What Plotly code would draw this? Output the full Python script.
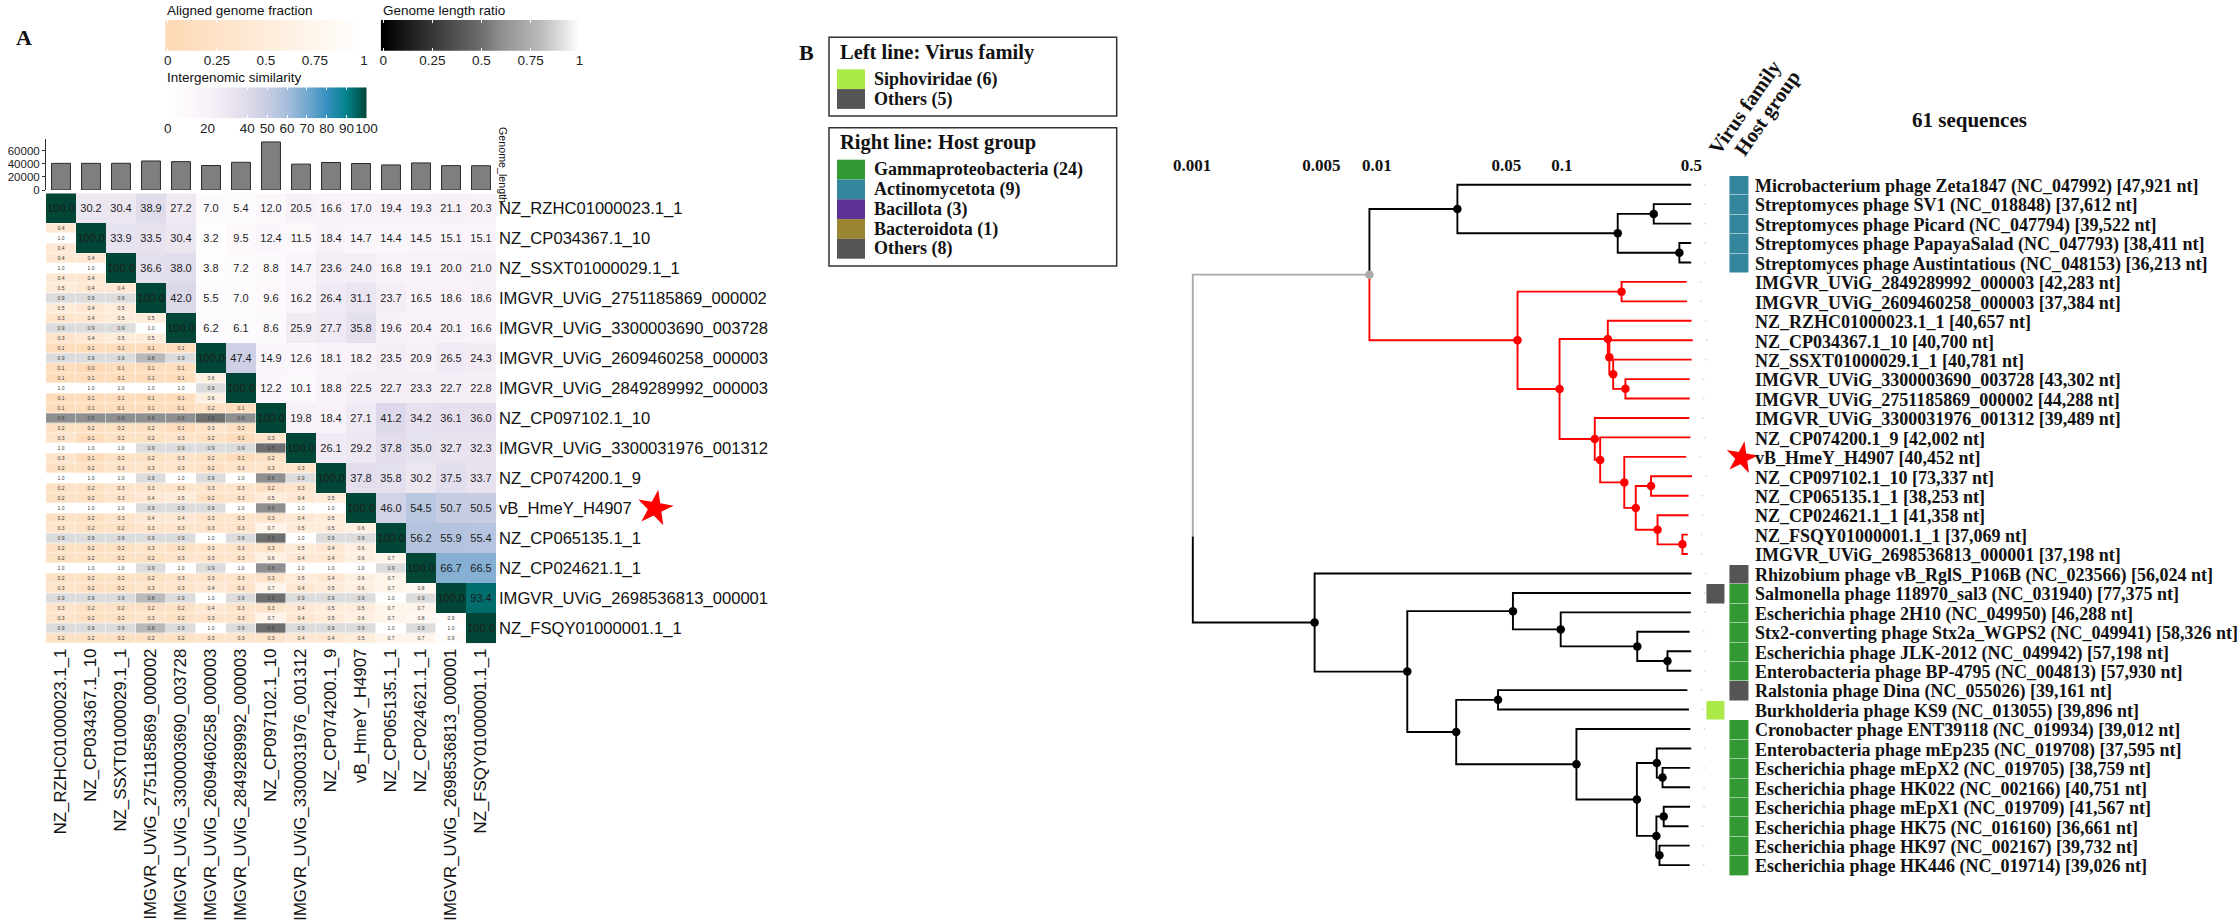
import numpy as np
import plotly.graph_objects as go

W, H = 2240, 920

# ---------- Panel A data ----------
genomes = ["NZ_RZHC01000023.1_1", "NZ_CP034367.1_10", "NZ_SSXT01000029.1_1",
           "IMGVR_UViG_2751185869_000002", "IMGVR_UViG_3300003690_003728",
           "IMGVR_UViG_2609460258_000003", "IMGVR_UViG_2849289992_000003",
           "NZ_CP097102.1_10", "IMGVR_UViG_3300031976_001312", "NZ_CP074200.1_9",
           "vB_HmeY_H4907", "NZ_CP065135.1_1", "NZ_CP024621.1_1",
           "IMGVR_UViG_2698536813_000001", "NZ_FSQY01000001.1_1"]
genome_length = [40657, 40700, 40781, 44288, 43302, 37384, 42283, 73337, 39489,
                 42002, 40452, 38253, 41358, 37198, 37069]
genome_length_ticks = [0, 20000, 40000, 60000]

similarity_upper = [
    [100.0, 30.2, 30.4, 38.9, 27.2, 7.0, 5.4, 12.0, 20.5, 16.6, 17.0, 19.4, 19.3, 21.1, 20.3],
    [100.0, 33.9, 33.5, 30.4, 3.2, 9.5, 12.4, 11.5, 18.4, 14.7, 14.4, 14.5, 15.1, 15.1],
    [100.0, 36.6, 38.0, 3.8, 7.2, 8.8, 14.7, 23.6, 24.0, 16.8, 19.1, 20.0, 21.0],
    [100.0, 42.0, 5.5, 7.0, 9.6, 16.2, 26.4, 31.1, 23.7, 16.5, 18.6, 18.6],
    [100.0, 6.2, 6.1, 8.6, 25.9, 27.7, 35.8, 19.6, 20.4, 20.1, 16.6],
    [100.0, 47.4, 14.9, 12.6, 18.1, 18.2, 23.5, 20.9, 26.5, 24.3],
    [100.0, 12.2, 10.1, 18.8, 22.5, 22.7, 23.3, 22.7, 22.8],
    [100.0, 19.8, 18.4, 27.1, 41.2, 34.2, 36.1, 36.0],
    [100.0, 26.1, 29.2, 37.8, 35.0, 32.7, 32.3],
    [100.0, 37.8, 35.8, 30.2, 37.5, 33.7],
    [100.0, 46.0, 54.5, 50.7, 50.5],
    [100.0, 56.2, 55.9, 55.4],
    [100.0, 66.7, 66.5],
    [100.0, 93.4],
    [100.0],
]
# lower triangle: aligned fraction above, length ratio in the middle, aligned fraction below
fraction_top = [
    [], [.4], [.4, .4], [.5, .4, .4], [.3, .4, .5, .5], [.1, .1, .1, .1, .1],
    [.1, .1, .1, .1, .1, .6], [.1, .1, .1, .1, .1, .2, .1],
    [.3, .1, .2, .2, .3, .2, .1, .3], [.2, .2, .3, .3, .3, .2, .3, .3, .3],
    [.2, .2, .3, .4, .5, .2, .3, .5, .4, .5],
    [.3, .2, .2, .3, .3, .3, .3, .7, .5, .5, .6],
    [.2, .2, .2, .2, .3, .3, .3, .6, .4, .4, .6, .7],
    [.3, .2, .2, .3, .3, .4, .3, .7, .4, .5, .6, .7, .8],
    [.3, .2, .2, .3, .2, .3, .3, .7, .4, .5, .6, .7, .8, .9],
]
ratio_mid = [
    [], [1.0], [1.0, 1.0], [.9, .9, .9], [.9, .9, .9, 1.0], [.9, .9, .9, .8, .9],
    [1.0, 1.0, 1.0, 1.0, 1.0, .9], [.6, .6, .6, .6, .6, .5, .6],
    [1.0, 1.0, 1.0, .9, .9, .9, .9, .5], [1.0, 1.0, 1.0, .9, 1.0, .9, 1.0, .6, .9],
    [1.0, 1.0, 1.0, .9, .9, .9, 1.0, .6, 1.0, 1.0],
    [.9, .9, .9, .9, .9, 1.0, .9, .5, 1.0, .9, .9],
    [1.0, 1.0, 1.0, .9, 1.0, .9, 1.0, .6, 1.0, 1.0, 1.0, .9],
    [.9, .9, .9, .8, .9, 1.0, .9, .5, .9, .9, .9, 1.0, .9],
    [.9, .9, .9, .8, .9, 1.0, .9, .5, .9, .9, .9, 1.0, .9, 1.0],
]
fraction_bot = [
    [], [.4], [.4, .4], [.5, .4, .5], [.3, .4, .5, .5], [.1, .0, .1, .1, .1],
    [.1, .1, .1, .1, .1, .6], [.2, .2, .2, .2, .1, .3, .2],
    [.3, .1, .2, .2, .3, .2, .1, .2], [.2, .2, .3, .3, .3, .3, .3, .2, .3],
    [.2, .2, .3, .4, .4, .3, .3, .3, .4, .5],
    [.2, .2, .2, .3, .2, .3, .3, .3, .5, .4, .6],
    [.2, .2, .2, .2, .3, .3, .3, .3, .5, .4, .6, .7],
    [.3, .2, .2, .2, .2, .4, .3, .3, .4, .5, .5, .7, .7],
    [.2, .2, .2, .2, .2, .3, .3, .3, .4, .4, .5, .7, .7, .9],
]
fraction_ticks = [0, 0.25, 0.5, 0.75, 1]
fraction_tick_text = ["0", "0.25", "0.5", "0.75", "1"]
similarity_ticks = [0, 20, 40, 50, 60, 70, 80, 90, 100]

# ---------- Panel B data ----------
leaf_labels = [
    "Microbacterium phage Zeta1847 (NC_047992) [47,921 nt]",
    "Streptomyces phage SV1 (NC_018848) [37,612 nt]",
    "Streptomyces phage Picard (NC_047794) [39,522 nt]",
    "Streptomyces phage PapayaSalad (NC_047793) [38,411 nt]",
    "Streptomyces phage Austintatious (NC_048153) [36,213 nt]",
    "IMGVR_UViG_2849289992_000003 [42,283 nt]",
    "IMGVR_UViG_2609460258_000003 [37,384 nt]",
    "NZ_RZHC01000023.1_1 [40,657 nt]",
    "NZ_CP034367.1_10 [40,700 nt]",
    "NZ_SSXT01000029.1_1 [40,781 nt]",
    "IMGVR_UViG_3300003690_003728 [43,302 nt]",
    "IMGVR_UViG_2751185869_000002 [44,288 nt]",
    "IMGVR_UViG_3300031976_001312 [39,489 nt]",
    "NZ_CP074200.1_9 [42,002 nt]",
    "vB_HmeY_H4907 [40,452 nt]",
    "NZ_CP097102.1_10 [73,337 nt]",
    "NZ_CP065135.1_1 [38,253 nt]",
    "NZ_CP024621.1_1 [41,358 nt]",
    "NZ_FSQY01000001.1_1 [37,069 nt]",
    "IMGVR_UViG_2698536813_000001 [37,198 nt]",
    "Rhizobium phage vB_RglS_P106B (NC_023566) [56,024 nt]",
    "Salmonella phage 118970_sal3 (NC_031940) [77,375 nt]",
    "Escherichia phage 2H10 (NC_049950) [46,288 nt]",
    "Stx2-converting phage Stx2a_WGPS2 (NC_049941) [58,326 nt]",
    "Escherichia phage JLK-2012 (NC_049942) [57,198 nt]",
    "Enterobacteria phage BP-4795 (NC_004813) [57,930 nt]",
    "Ralstonia phage Dina (NC_055026) [39,161 nt]",
    "Burkholderia phage KS9 (NC_013055) [39,896 nt]",
    "Cronobacter phage ENT39118 (NC_019934) [39,012 nt]",
    "Enterobacteria phage mEp235 (NC_019708) [37,595 nt]",
    "Escherichia phage mEpX2 (NC_019705) [38,759 nt]",
    "Escherichia phage HK022 (NC_002166) [40,751 nt]",
    "Escherichia phage mEpX1 (NC_019709) [41,567 nt]",
    "Escherichia phage HK75 (NC_016160) [36,661 nt]",
    "Escherichia phage HK97 (NC_002167) [39,732 nt]",
    "Escherichia phage HK446 (NC_019714) [39,026 nt]",
]
tip_distance = [.4995, .4995, .4995, .4995, .4995, .4720, .4743, .5020, .5092, .5020,
                .4902, .4902, .4878, .4948, .4695, .5043, .4830, .4830, .4786, .4786,
                .5020, .4971, .4971, .4902, .4995, .4995, .4761, .4853, .4948, .4995,
                .4925, .4925, .4925, .4830, .4902, .4902]
# internal nodes: name, distance from the axis, first child, second child, clade
tree_nodes = [
    ("root", .00101, "A", "T", "grey"),
    ("A", .00910, "B", "F", "grey"),
    ("B", .0272, 0, "C", "black"), ("C", .2001, "D", "E", "black"),
    ("D", .3132, 1, 2, "black"), ("E", .4310, 3, 4, "black"),
    ("F", .0575, "G", "H", "red"), ("G", .2099, 5, 6, "red"),
    ("H", .0970, "I", "N", "red"), ("I", .1769, 7, "J", "red"),
    ("J", .1803, 8, "K", "red"), ("K", .1891, 9, "L", "red"),
    ("L", .2202, 10, 11, "red"), ("N", .1504, 12, "M", "red"),
    ("M", .1608, 13, "O", "red"), ("O", .2171, 14, "P", "red"),
    ("P", .2504, "Q", "R", "red"), ("Q", .3030, 15, 16, "red"),
    ("R", .3284, 17, "S", "red"), ("S", .4477, 18, 19, "red"),
    ("T", .0046, 20, "U", "black"), ("U", .01458, "V", "W", "black"),
    ("V", .0543, 21, "X", "black"), ("X", .0984, 22, "Y", "black"),
    ("Y", .2552, 23, "Z", "black"), ("Z", .3717, 24, 25, "black"),
    ("W", .0268, "AA", "AB", "black"), ("AA", .0451, 26, 27, "black"),
    ("AB", .1197, 28, "AC", "black"), ("AC", .2540, "AD", "AE", "black"),
    ("AD", .3254, 29, "AF", "black"), ("AF", .3495, 30, 31, "black"),
    ("AE", .3238, "AG", "AH", "black"), ("AG", .3547, 32, 33, "black"),
    ("AH", .3364, 34, 35, "black"),
]
root_colour_change = 18.1
distance_ticks = [0.001, 0.005, 0.01, 0.05, 0.1, 0.5]
distance_tick_text = ["0.001", "0.005", "0.01", "0.05", "0.1", "0.5"]
# 0 none, 1 others, 2 siphoviridae, 3 gammaproteobacteria, 4 actinomycetota
virus_family = {21: 1, 27: 2}
host_group = {0: 4, 1: 4, 2: 4, 3: 4, 4: 4, 20: 1, 21: 3, 22: 3, 23: 3, 24: 3, 25: 3, 26: 1,
              28: 3, 29: 3, 30: 3, 31: 3, 32: 3, 33: 3, 34: 3, 35: 3}
star_leaf = 14
left_legend = [("Siphoviridae (6)", "#ABE948"), ("Others (5)", "#555555")]
right_legend = [("Gammaproteobacteria (24)", "#339933"), ("Actinomycetota (9)", "#33869C"),
                ("Bacillota (3)", "#5E3296"), ("Bacteroidota (1)", "#9A8632"),
                ("Others (8)", "#555555")]

SANS, SERIF = "Liberation Sans", "Liberation Serif"
SIM_SCALE = [[0, "#ffffff"], [.2, "#f8f1f8"], [.4, "#e0dbeb"], [.5, "#c8cde3"], [.6, "#a6bddb"],
             [.7, "#74a9cf"], [.8, "#3690c0"], [.9, "#02818a"], [1, "#014636"]]
FRAC_SCALE = [[0, "#FDD9B5"], [1, "#ffffff"]]
RATIO_SCALE = [[0, "#000000"], [.5, "#6e6e6e"], [.6, "#8f8f8f"], [.8, "#b9b9b9"], [.9, "#dcdcdc"], [1, "#ffffff"]]


def xdom(a, b):
    return [a / W, b / W]


def ydom(top, bottom):
    return [1 - bottom / H, 1 - top / H]


hidden = dict(visible=False, showgrid=False, zeroline=False, fixedrange=True, automargin=False)
fig = go.Figure()
n = len(genomes)
idx = list(range(n))

# ---------- heatmap ----------
sim_z = [[None] * i + row for i, row in enumerate(similarity_upper)]
sim_t = [["" if v is None else f"{v:.1f}" for v in row] for row in sim_z]
fig.add_trace(go.Heatmap(x=idx, y=idx, z=sim_z, text=sim_t, texttemplate="%{text}",
                         textfont=dict(family=SANS, size=11, color="#1c1c1c"),
                         colorscale=SIM_SCALE, zmin=0, zmax=100, showscale=False, hoverinfo="skip"))


def sub_rows(source, offset):
    z = [[None] * n for _ in range(3 * n)]
    for r, row in enumerate(source):
        for c, v in enumerate(row):
            z[3 * r + offset][c] = v
    return z


sub_y = [r + o for r in range(n) for o in (-1 / 3, 0, 1 / 3)]
frac_z = [a if any(v is not None for v in a) else b for a, b in zip(sub_rows(fraction_top, 0), sub_rows(fraction_bot, 2))]
ratio_z = sub_rows(ratio_mid, 1)
for z, scale in ((frac_z, FRAC_SCALE), (ratio_z, RATIO_SCALE)):
    t = [["" if v is None else f"{v:.1f}" for v in row] for row in z]
    fig.add_trace(go.Heatmap(x=idx, y=sub_y, z=z, text=t, texttemplate="%{text}",
                             textfont=dict(family=SANS, size=5, color="#3a3a3a"),
                             colorscale=scale, zmin=0, zmax=1, showscale=False, hoverinfo="skip",
                             xgap=0.5, ygap=0.5))
# star next to the row label: x units are heatmap columns, on a wider axis with the same scale
fig.add_trace(go.Scatter(x=[19.8], y=[genomes.index("vB_HmeY_H4907")], mode="markers", xaxis="x8", yaxis="y8",
                         marker=dict(symbol="star", size=27, color="#ff0000", angle=10), hoverinfo="skip"))

# ---------- bars ----------
fig.add_trace(go.Bar(x=idx, y=genome_length, xaxis="x2", yaxis="y2", width=0.63,
                     marker=dict(color="#7f7f7f", line=dict(color="#2a2a2a", width=1)), hoverinfo="skip"))

# ---------- colour legends ----------
for axis_suffix, lo, scale, zmax in (("3", -0.0127, FRAC_SCALE, 1), ("4", -0.0127, RATIO_SCALE, 1), ("5", -1.27, SIM_SCALE, 100)):
    xs = np.linspace(lo, zmax, 400)
    fig.add_trace(go.Heatmap(x=xs, y=[0], z=[np.clip(xs, 0, zmax).tolist()], xaxis="x" + axis_suffix, yaxis="y" + axis_suffix,
                             colorscale=scale, zmin=0, zmax=zmax, showscale=False, hoverinfo="skip"))

# ---------- tree ----------
node_map = {name: (d, a, b, clade) for name, d, a, b, clade in tree_nodes}


def node_y(key):
    if isinstance(key, int):
        return float(key)
    _, a, b, _ = node_map[key]
    return (node_y(a) + node_y(b)) / 2


def node_dist(key):
    return tip_distance[key] if isinstance(key, int) else node_map[key][0]


def clade_of(key, parent_clade):
    return parent_clade if isinstance(key, int) else node_map[key][3]


segments = {"grey": ([], []), "red": ([], []), "black": ([], [])}
dots = {"grey": ([], []), "red": ([], []), "black": ([], [])}
for name, d, a, b, clade in tree_nodes:
    y0 = root_colour_change if name == "root" else node_y(name)
    for child in (a, b):
        col = clade_of(child, clade)
        sx, sy = segments[col]
        sx += [d, d, node_dist(child), None]
        sy += [y0, node_y(child), node_y(child), None]
    if name != "root":
        dots[clade][0].append(d)
        dots[clade][1].append(node_y(name))
line_colour = {"grey": "#aaaaaa", "red": "#ff0000", "black": "#000000"}
for col in ("grey", "red", "black"):
    fig.add_trace(go.Scatter(x=segments[col][0], y=segments[col][1], mode="lines", xaxis="x6", yaxis="y6",
                             line=dict(color=line_colour[col], width=1.9), hoverinfo="skip"))
for col in ("grey", "red", "black"):
    fig.add_trace(go.Scatter(x=dots[col][0], y=dots[col][1], mode="markers", xaxis="x6", yaxis="y6",
                             marker=dict(color=line_colour[col], size=8.5), hoverinfo="skip"))
fig.add_trace(go.Scatter(x=[t * 1.19 for t in tip_distance], y=list(range(len(tip_distance))), mode="markers",
                         xaxis="x6", yaxis="y6", marker=dict(color="#dedede", size=2), hoverinfo="skip"))

# ---------- annotation strips ----------
rows = list(range(len(leaf_labels)))
strip_z = [[virus_family.get(r), host_group.get(r)] for r in rows]
strip_scale = [[0, "#555555"], [1 / 3, "#555555"], [1 / 3, "#ABE948"], [2 / 3, "#ABE948"],
               [2 / 3, "#339933"], [0.9, "#339933"], [0.9, "#33869C"], [1, "#33869C"]]
fig.add_trace(go.Heatmap(x=[0, 1], y=rows, z=strip_z, xaxis="x7", yaxis="y7", colorscale=strip_scale,
                         zmin=1, zmax=4, showscale=False, hoverinfo="skip", xgap=5, ygap=0.5))
fig.add_trace(go.Scatter(x=[1.1], y=[star_leaf], mode="markers", xaxis="x7", yaxis="y7", cliponaxis=False,
                         marker=dict(symbol="star", size=24, color="#ff0000", angle=10), hoverinfo="skip"))

# ---------- text and shapes ----------
annotations, shapes = [], []


def note(text, x, y, size, family=SANS, bold=False, xanchor="left", angle=0, color="#111111"):
    annotations.append(dict(text=f"<b>{text}</b>" if bold else text, x=x / W, y=1 - y / H, xref="paper", yref="paper",
                            showarrow=False, xanchor=xanchor, yanchor="middle", textangle=angle,
                            font=dict(family=family, size=size, color=color)))


note("A", 24, 38, 22, SERIF, True, "center")
note("B", 806, 52, 22, SERIF, True, "center")
note("Aligned genome fraction", 165, 10, 13.5)
note("Genome length ratio", 381, 10, 13.5)
note("Intergenomic similarity", 165, 77, 13.5)
note("Genome_length", 503.5, 164.5, 10.7, xanchor="center", angle=90)
note("61 sequences", 1969, 120, 21, SERIF, True, "center")
note("Virus family", 1745, 107, 20.5, SERIF, True, "center", -55)
note("Host group", 1767, 113, 20.5, SERIF, True, "center", -55)


def legend_box(top, bottom, title, title_y, items, swatch_top):
    shapes.append(dict(type="rect", xref="paper", yref="paper", x0=829 / W, x1=1116.7 / W,
                       y0=1 - bottom / H, y1=1 - top / H, line=dict(color="#333333", width=1.5)))
    note(title, 838, title_y, 20.5, SERIF, True)
    for i, (label, colour) in enumerate(items):
        y0 = swatch_top + 19.8 * i
        shapes.append(dict(type="rect", xref="paper", yref="paper", x0=837 / W, x1=865 / W,
                           y0=1 - (y0 + 19.8) / H, y1=1 - y0 / H, line=dict(width=0), fillcolor=colour))
        note(label, 872.3, y0 + 10, 18, SERIF, True)


legend_box(37.3, 116, "Left line: Virus family", 52.7, left_legend, 69.3)
legend_box(127.7, 266, "Right line: Host group", 142.7, right_legend, 159.7)

tick_font = dict(family=SANS, size=13.5, color="#222222")
layout_axes = dict(
    xaxis=dict(domain=xdom(46, 496), range=[-0.5, 14.5], anchor="y", tickmode="array", tickvals=idx, ticktext=genomes,
               tickangle=-90, ticks="", showgrid=False, zeroline=False, showline=False,
               tickfont=dict(family=SANS, size=16.8, color="#111111"), ticklabelstandoff=1, fixedrange=True),
    yaxis=dict(domain=ydom(193.3, 643.3), range=[14.5, -0.5], anchor="x", side="right", tickmode="array", tickvals=idx,
               ticktext=genomes, ticks="", showgrid=False, zeroline=False, showline=False,
               tickfont=dict(family=SANS, size=16.6, color="#111111"), ticklabelstandoff=2, fixedrange=True),
    xaxis2=dict(hidden, domain=xdom(46, 496), range=[-0.5, 14.5], anchor="y2"),
    yaxis2=dict(domain=ydom(139.3, 190), range=[0, 77400], anchor="x2", tickmode="array", tickvals=genome_length_ticks,
                ticktext=[str(v) for v in genome_length_ticks],
                ticks="outside", ticklen=3, tickcolor="#333333", tickwidth=1, showline=True, linecolor="#333333", linewidth=1,
                showgrid=False, zeroline=False, tickfont=dict(family=SANS, size=11.5, color="#222222"), fixedrange=True),
    xaxis3=dict(domain=xdom(165.3, 364), range=[-0.0127, 1], anchor="y3", tickmode="array", tickvals=fraction_ticks,
                ticktext=fraction_tick_text, tickangle=0, ticks="inside", ticklen=3, tickcolor="#ffffff", mirror="ticks", showline=False,
                showgrid=False, zeroline=False, tickfont=tick_font, fixedrange=True),
    yaxis3=dict(hidden, domain=ydom(20, 50.7), anchor="x3"),
    xaxis4=dict(domain=xdom(380.8, 579.6), range=[-0.0127, 1], anchor="y4", tickmode="array", tickvals=fraction_ticks,
                ticktext=fraction_tick_text, tickangle=0, ticks="inside", ticklen=3, tickcolor="#ffffff", mirror="ticks", showline=False,
                showgrid=False, zeroline=False, tickfont=tick_font, fixedrange=True),
    yaxis4=dict(hidden, domain=ydom(20, 50.7), anchor="x4"),
    xaxis5=dict(domain=xdom(165.3, 366.5), range=[-1.27, 100], anchor="y5", tickmode="array", tickvals=similarity_ticks,
                ticktext=[str(v) for v in similarity_ticks], tickangle=0,
                ticks="inside", ticklen=3, tickcolor="#ffffff", mirror="ticks", showline=False,
                showgrid=False, zeroline=False, tickfont=tick_font, fixedrange=True),
    yaxis5=dict(hidden, domain=ydom(87.3, 118.3), anchor="x5"),
    xaxis6=dict(type="log", domain=xdom(1170, 1720), range=[-3.1189, -0.1459], anchor="y6", side="top", tickmode="array",
                tickvals=distance_ticks, ticktext=distance_tick_text, ticks="", showgrid=False, zeroline=False, showline=False,
                tickfont=dict(family=SERIF, size=17, color="#111111", weight="bold"), fixedrange=True),
    yaxis6=dict(hidden, domain=ydom(175, 874.8), range=[35.5, -0.5], anchor="x6"),
    xaxis7=dict(hidden, domain=xdom(1704.4, 1750.9), range=[-0.5, 1.5], anchor="y7"),
    yaxis7=dict(domain=ydom(176, 875.8), range=[35.5, -0.5], anchor="x7", side="right", tickmode="array", tickvals=rows,
                ticktext=leaf_labels, ticks="", showgrid=False, zeroline=False, showline=False, ticklabelstandoff=3,
                tickfont=dict(family=SERIF, size=18, color="#111111", weight="bold"), fixedrange=True),
    xaxis8=dict(hidden, domain=xdom(46, 706), range=[-0.5, 21.5], anchor="y8"),
    yaxis8=dict(hidden, domain=ydom(193.3, 643.3), range=[14.5, -0.5], anchor="x8"),
)
fig.update_layout(template="none", width=W, height=H, margin=dict(l=0, r=0, t=0, b=0, autoexpand=False),
                  paper_bgcolor="#ffffff", plot_bgcolor="rgba(0,0,0,0)",
                  showlegend=False, annotations=annotations, shapes=shapes, **layout_axes)
fig.write_html("out.html", config=dict(displayModeBar=False),
               post_script="document.body.style.margin='0';document.documentElement.style.overflow='hidden';document.body.style.overflow='hidden';")
